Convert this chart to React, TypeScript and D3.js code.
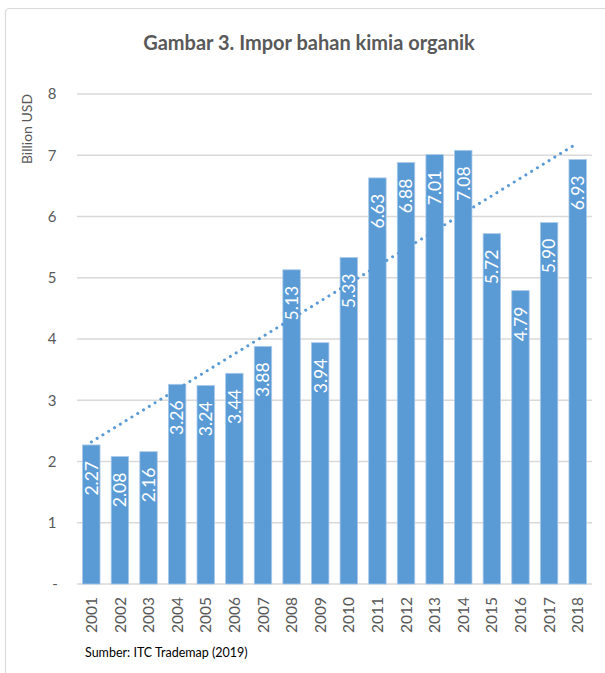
import React from "react";
import * as d3 from "d3";

const years = ["2001","2002","2003","2004","2005","2006","2007","2008","2009","2010","2011","2012","2013","2014","2015","2016","2017","2018"];
const values = [2.27,2.08,2.16,3.26,3.24,3.44,3.88,5.13,3.94,5.33,6.63,6.88,7.01,7.08,5.72,4.79,5.90,6.93];
const yTicks = [0,1,2,3,4,5,6,7,8];
const title = "Gambar 3. Impor bahan kimia organik";
const yTitle = "Billion USD";
const source = "Sumber: ITC Trademap (2019)";

export default function App() {
  const W = 605, H = 673;
  const x = d3.scaleBand<string>().domain(years).range([77, 592]).paddingInner(0.39).paddingOuter(0.195);
  const y = d3.scaleLinear().domain([0, 8]).range([584, 94]);
  // linear trend
  const n = values.length;
  const xs = values.map((_, i) => i + 1);
  const mx = d3.mean(xs)!;
  const my = d3.mean(values)!;
  const slope = d3.sum(xs.map((xi, i) => (xi - mx) * (values[i] - my))) / d3.sum(xs.map(xi => (xi - mx) ** 2));
  const intercept = my - slope * mx;
  const trendPts: [number, number][] = [1, n].map(i => [x(years[i - 1])! + x.bandwidth() / 2, y(intercept + slope * i)]);
  const line = d3.line();
  const font = "Lato, 'Open Sans', sans-serif";
  const grey = "#595959";
  return (
    <svg width={W} height={H} style={{ position: "absolute", left: 0, top: 0, background: "#fff" }}>
      <rect x={5.5} y={8.5} width={720} height={720} rx={4} fill="#fff" stroke="#d9d9d9" strokeWidth={1.2} />
      <text x={309} y={50} textAnchor="middle" fontFamily={font} fontWeight="bold" fontSize={20} fill={grey}>{title}</text>
      <text transform={`translate(32,129) rotate(-90)`} textAnchor="middle" fontFamily={font} fontSize={14} fill={grey}>{yTitle}</text>
      {yTicks.map(t => (
        <g key={t}>
          {t > 0 && <line x1={77} x2={592} y1={y(t)} y2={y(t)} stroke="#d9d9d9" strokeWidth={1.3} />}
          <text x={t === 0 ? 55 : 52} y={y(t)} dy="0.35em" textAnchor="middle" fontFamily={font} fontSize={15} fill={grey}>{t === 0 ? "-" : String(t)}</text>
        </g>
      ))}
      <line x1={77} x2={592} y1={y(0)} y2={y(0)} stroke="#d9d9d9" strokeWidth={1.5} />
      {years.map((yr, i) => (
        <rect key={yr} x={x(yr)!} y={y(values[i])} width={x.bandwidth()} height={y(0) - y(values[i])} fill="#5b9bd5" stroke="#a9c9ea" strokeWidth={0.8} />
      ))}
      <path d={line(trendPts)!} fill="none" stroke="#5b9bd5" strokeWidth={3} strokeDasharray="0.1 6.7" strokeLinecap="round" />
      {years.map((yr, i) => {
        const cx = x(yr)! + x.bandwidth() / 2;
        const ty = y(values[i]) + 16;
        return (
          <text key={yr} transform={`translate(${cx},${ty}) rotate(-90)`} textAnchor="end" dy="0.36em" fontFamily={font} fontSize={17.5} fill="#fff">{values[i].toFixed(2)}</text>
        );
      })}
      {years.map(yr => (
        <text key={yr} transform={`translate(${x(yr)! + x.bandwidth() / 2},${597}) rotate(-90)`} textAnchor="end" dy="0.36em" fontFamily={font} fontSize={15.5} fill={grey}>{yr}</text>
      ))}
      <text x={85} y={657} fontFamily={font} fontSize={12.5} fill="#000">{source}</text>
    </svg>
  );
}
